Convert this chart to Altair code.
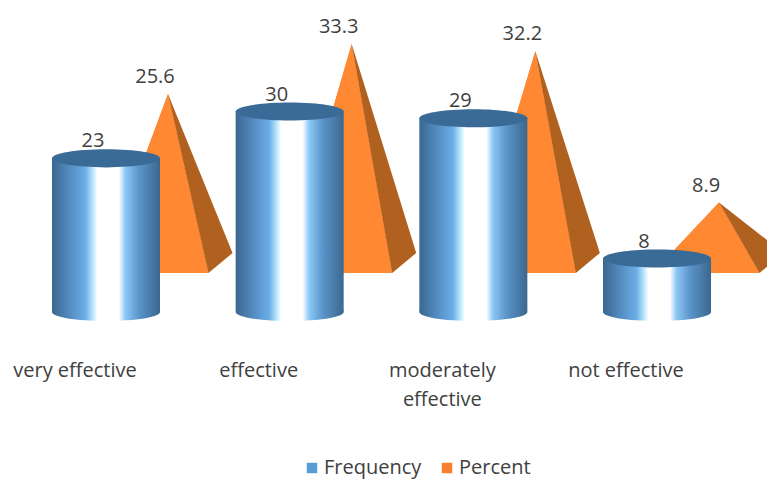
import altair as alt
import pandas as pd

categories = ["very effective", "effective", "moderately effective", "not effective"]
category_lines = [["very effective"], ["effective"], ["moderately", "effective"], ["not effective"]]
frequency = [23, 30, 29, 8]
percent = [25.6, 33.3, 32.2, 8.9]
series_names = ["Frequency", "Percent"]
series_colors = ["#5B9BD5", "#F58130"]

FONT = "Open Sans"
TEXT = "#404040"
W, H = 759, 472
# chart geometry expressed in data units
PX = 183.67
PY = 6.68
X_DOM = [-98 / PX, (W - 98) / PX]
Y_DOM = [(304 - H) / PY, 304 / PY]
CYL_HW = 54 / PX
PYR_CX, PYR_HW, PYR_APEX = 0.267, 0.291, 0.3376
DEPTH_X, DEPTH_Y = 0.131, 3.0
PYR_BASE = 5.84
def pyr_top(v):
    return PYR_BASE + 1.9 + 0.972 * v

x_s = alt.Scale(domain=X_DOM, range=[0, W], nice=False, zero=False)
y_s = alt.Scale(domain=Y_DOM, range=[H, 0], nice=False, zero=False)
X = lambda f: alt.X(f, type="quantitative", scale=x_s, axis=None)
Y = lambda f: alt.Y(f, type="quantitative", scale=y_s, axis=None)

cyl = pd.DataFrame({
    "cat": categories, "i": range(4), "v": frequency,
    "l": [i - CYL_HW for i in range(4)], "r": [i + CYL_HW for i in range(4)],
    "zero": [0] * 4,
    "lx": [i - 13 / PX for i in range(4)],
})
front, side = [], []
for i, (c, p) in enumerate(zip(categories, percent)):
    cx = i + PYR_CX
    ax, top = i + PYR_APEX, pyr_top(p)
    lx, rx = cx - PYR_HW, cx + PYR_HW
    bx, by = rx + DEPTH_X, PYR_BASE + DEPTH_Y
    front += [{"cat": c, "x": lx, "y": PYR_BASE, "y0": PYR_BASE, "s": "Percent"},
              {"cat": c, "x": ax, "y": top, "y0": PYR_BASE, "s": "Percent"},
              {"cat": c, "x": rx, "y": PYR_BASE, "y0": PYR_BASE, "s": "Percent"}]
    edge = top + (by - top) * (rx - ax) / (bx - ax)
    side += [{"cat": c, "x": ax, "y": top, "y0": top},
             {"cat": c, "x": rx, "y": edge, "y0": PYR_BASE},
             {"cat": c, "x": bx, "y": by, "y0": by}]
front = pd.DataFrame(front)
side = pd.DataFrame(side)
pct = pd.DataFrame({"x": [i + PYR_APEX - 13 / PX for i in range(4)],
                    "y": [pyr_top(p) for p in percent],
                    "t": [str(p) for p in percent]})
labels = pd.DataFrame({"x": [i - 31 / PX for i in range(4)],
                       "t": category_lines})

grad = alt.Gradient(gradient="linear", x1=0, x2=1, y1=0, y2=0, stops=[
    alt.GradientStop(offset=0, color="#3A678F"),
    alt.GradientStop(offset=0.2, color="#5A94CB"),
    alt.GradientStop(offset=0.31, color="#6BAEE6"),
    alt.GradientStop(offset=0.39, color="#C8EEFF"),
    alt.GradientStop(offset=0.42, color="#FFFFFF"),
    alt.GradientStop(offset=0.62, color="#FFFFFF"),
    alt.GradientStop(offset=0.68, color="#8CC8F5"),
    alt.GradientStop(offset=0.8, color="#5C96CC"),
    alt.GradientStop(offset=1, color="#3A678F"),
])
ELLIPSE = "M-1,0A1,0.167,0,0,0,1,0A1,0.167,0,0,0,-1,0Z"
SIZE = 108 ** 2

l_front = alt.Chart(front).mark_area(clip=True, opacity=1).encode(
    x=X("x"), y=Y("y"), y2=alt.Y2("y0"), detail="cat:N",
    color=alt.Color("s:N", scale=alt.Scale(domain=series_names, range=series_colors),
                    legend=alt.Legend(title=None, orient="none", direction="horizontal",
                                      legendX=294, legendY=450, symbolType="square", symbolSize=110,
                                      symbolStrokeWidth=0, labelFont=FONT, labelFontSize=20,
                                      labelColor=TEXT, columnPadding=15, labelOffset=2)))
l_front2 = alt.Chart(front).mark_area(clip=True, color="#FF8833").encode(
    x=X("x"), y=Y("y"), y2=alt.Y2("y0"), detail="cat:N")
l_side = alt.Chart(side).mark_area(clip=True, color="#B0601F").encode(
    x=X("x"), y=Y("y"), y2=alt.Y2("y0"), detail="cat:N")
l_body = alt.Chart(cyl).mark_bar(fill=grad, stroke=None).encode(
    x=X("l"), x2=alt.X2("r"), y=Y("v"), y2=alt.Y2("zero"))
l_bottom = alt.Chart(cyl).mark_point(shape=ELLIPSE, size=SIZE, filled=True, fill=grad, opacity=1).encode(
    x=X("i"), y=Y("zero"))
l_top = alt.Chart(cyl).mark_point(shape=ELLIPSE, size=SIZE, filled=True, fill="#3A6A96", opacity=1).encode(
    x=X("i"), y=Y("v"))
l_ftxt = alt.Chart(cyl).mark_text(font=FONT, fontSize=20, color=TEXT, dy=-17).encode(
    x=X("lx"), y=Y("v"), text="v:Q")
l_ptxt = alt.Chart(pct).mark_text(font=FONT, fontSize=20, color=TEXT, dy=-17).encode(
    x=X("x"), y=Y("y"), text="t:N")
l_cat = alt.Chart(labels).mark_text(font=FONT, fontSize=20, color=TEXT, baseline="middle",
                                    lineHeight=29).encode(
    x=X("x"), y=alt.value(363), text="t")

chart = alt.layer(l_front, l_front2, l_side, l_body, l_bottom, l_top, l_ftxt, l_ptxt, l_cat).properties(
    width=W, height=H, padding=0, autosize=alt.AutoSizeParams(type="none"),
).configure_view(stroke=None)
chart.save("out.html", embed_options={"renderer": "svg", "actions": False})
